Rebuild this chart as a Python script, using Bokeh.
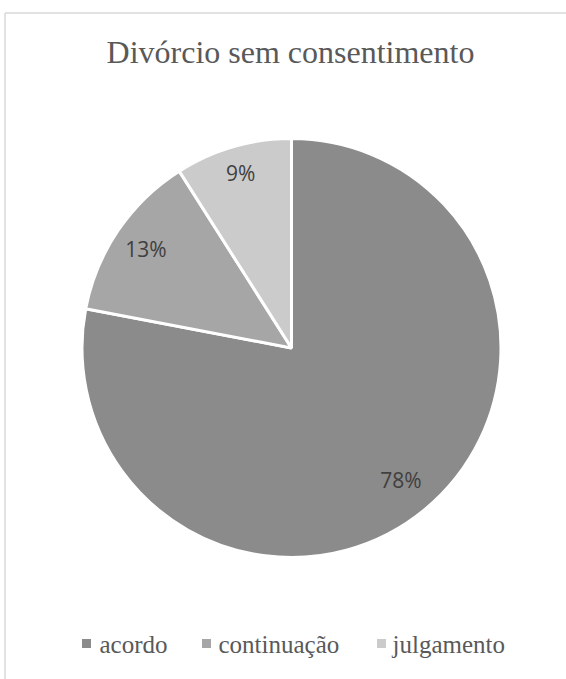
import math
from bokeh.plotting import figure
from bokeh.models import Range1d, ColumnDataSource
from bokeh.core.properties import value
from bokeh.embed import file_html
from bokeh.resources import INLINE

# ---- data ----
title_text = "Divórcio sem consentimento"
categories = ["acordo", "continuação", "julgamento"]
percent = [78, 13, 9]
colors = ["#8b8b8b", "#a6a6a6", "#cbcbcb"]

# ---- layout (page pixel coordinates; y measured downward from page top) ----
PAGE_W, PAGE_H = 566, 679
W, H = PAGE_W, PAGE_H
cx, cy_img, radius = 291, 347.5, 209.5
label_radius_frac = [0.82, 0.84, 0.87]
legend_marker_x = [86, 206, 381]
legend_text_x = [99, 218, 392]
legend_marker_y_img = 643
legend_text_mid_img = 643.5
title_x, title_mid_img = 290, 51

def Y(img_y):
    return PAGE_H - img_y

p = figure(width=W, height=H, output_backend="svg", toolbar_location=None,
           x_range=Range1d(0, PAGE_W), y_range=Range1d(0, PAGE_H),
           min_border=0)
p.axis.visible = False
p.grid.visible = False
p.outline_line_color = None
p.background_fill_color = "white"
p.border_fill_color = "white"

# chart border (only top and left visible in the reference)
p.segment(x0=[4.5, 4.5], y0=[Y(12.5), Y(12.5)], x1=[700, 4.5], y1=[Y(12.5), -50],
          line_color="#d9d9d9", line_width=1.5)

# wedges: start at 12 o'clock, clockwise
total = sum(percent)
starts, ends, mids = [], [], []
acc = 0.0
for v in percent:
    f0 = acc / total
    acc += v
    f1 = acc / total
    starts.append(math.pi / 2 - f0 * 2 * math.pi)
    ends.append(math.pi / 2 - f1 * 2 * math.pi)
    mids.append(math.pi / 2 - (f0 + f1) / 2 * 2 * math.pi)

src = ColumnDataSource(dict(cat=categories, val=percent, color=colors,
                            start=starts, end=ends))
p.wedge(x=cx, y=Y(cy_img), radius=radius, start_angle="start", end_angle="end",
        direction="clock", fill_color="color", line_color="white", line_width=3,
        source=src)

# percentage labels
lx = [cx + fr * radius * math.cos(a) for fr, a in zip(label_radius_frac, mids)]
ly = [Y(cy_img) + fr * radius * math.sin(a) for fr, a in zip(label_radius_frac, mids)]
p.text(x=lx, y=ly, text=[f"{v}%" for v in percent], text_align="center",
       text_baseline="middle", text_font=value("Open Sans"),
       text_font_size="21px", text_color="#404040")

# title
p.text(x=[title_x], y=[Y(title_mid_img)], text=[title_text], text_align="center",
       text_baseline="middle", text_font=value("Liberation Serif"),
       text_font_size="32px", text_color="#595959")

# legend
p.rect(x=legend_marker_x, y=[Y(legend_marker_y_img)] * 3, width=9, height=9,
       fill_color=colors, line_color=None)
p.text(x=legend_text_x, y=[Y(legend_text_mid_img)] * 3, text=categories,
       text_align="left", text_baseline="middle",
       text_font=value("Liberation Serif"), text_font_size="25px",
       text_color="#595959")

open("out.html", "w").write(file_html(p, INLINE))
